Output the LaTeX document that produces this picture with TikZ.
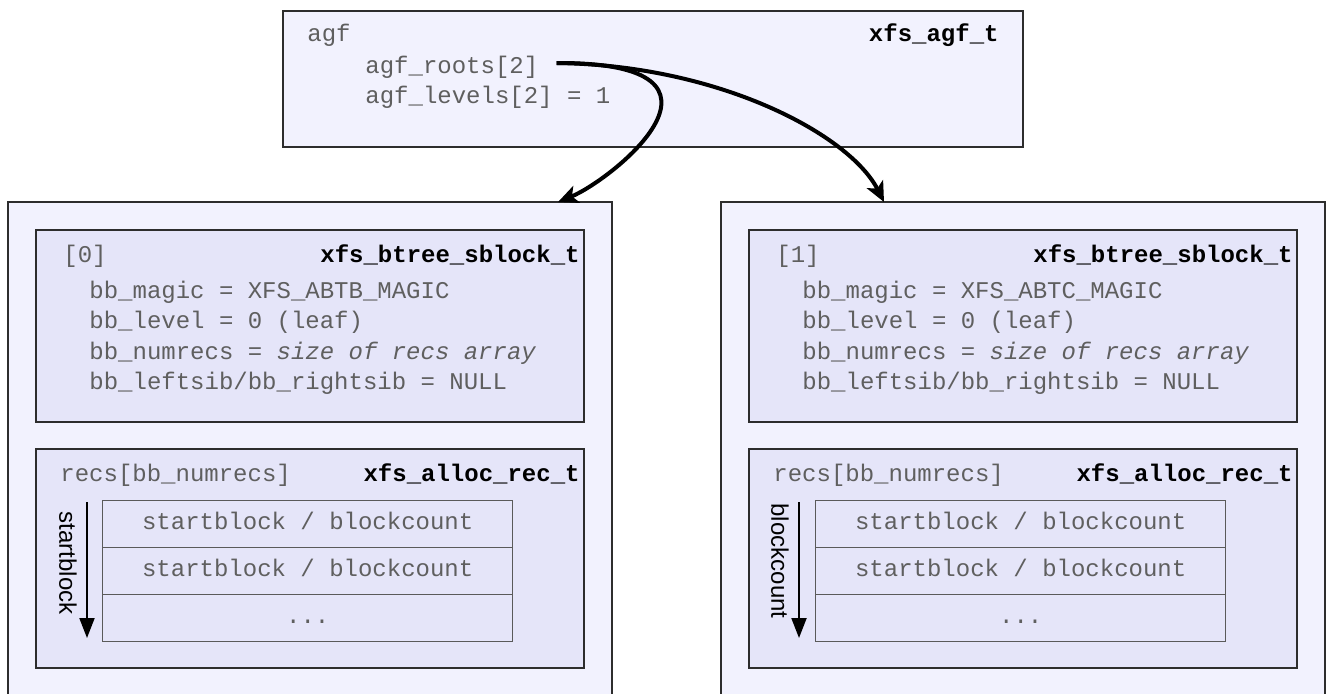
\documentclass[tikz,border=0pt]{standalone}
\usepackage{fontspec}
\setmonofont{Liberation Mono}
\setsansfont{Liberation Sans}
\usetikzlibrary{arrows.meta,calc}
\definecolor{outerfill}{RGB}{242,242,254}
\definecolor{innerfill}{RGB}{229,229,249}
\definecolor{bordercol}{RGB}{45,45,45}
\definecolor{txtgray}{RGB}{95,95,95}
\definecolor{gridcol}{RGB}{90,90,90}
\newcommand{\xmono}{\ttfamily\fontsize{12}{14}\selectfont}
\newcommand{\xmonob}{\ttfamily\bfseries\fontsize{12}{14}\selectfont}
\begin{document}
\begin{tikzpicture}[x=0.5pt,y=-0.5pt,
  box/.style={draw=bordercol, line width=1pt, fill=outerfill, inner sep=0pt, outer sep=0pt, anchor=north west},
  inbox/.style={box, fill=innerfill},
  cell/.style={draw=gridcol, line width=0.7pt, fill=innerfill, anchor=north west,
     minimum width=205pt, minimum height=23.5pt, inner sep=0pt,
     text height=7.5pt, text depth=2pt, font=\xmono, text=txtgray},
  txt/.style={inner sep=0pt, font=\xmono, text=txtgray, anchor=base west},
  lbl/.style={inner sep=0pt, font=\xmonob, text=black, anchor=base east},
  conn/.style={line width=2pt, -{Stealth[length=10pt,width=9pt,inset=2.5pt]}},
  ord/.style={line width=1pt, -{Triangle[length=10pt,width=7.5pt]}},
  side/.style={font=\sffamily\fontsize{12}{14}\selectfont, inner sep=0pt, rotate=-90, text=black}
]
\useasboundingbox (0,0) rectangle (1327,693);
\clip (0,0) rectangle (1327,693);
\fill[white] (0,0) rectangle (1327,693);

% top box
\node[box, minimum width=370pt, minimum height=68pt] (T) at (283,11) {};
\node[txt] (agf) at (307,41) {agf};
\node[lbl] (agft) at (999,41) {xfs\_agf\_t};
\node[txt] (roots) at (365,73) {agf\_roots[2]};
\node[txt] (levels) at (365,103) {agf\_levels[2] = 1};

% left outer
\node[box, minimum width=302pt, minimum height=260pt] (L) at (8,202) {};
\node[inbox, minimum width=274pt, minimum height=96pt] (Ls) at (36,230) {};
\node[txt] (l0) at (63,262) {[0]};
\node[lbl] (lst) at (580,262) {xfs\_btree\_sblock\_t};
\node[txt] (lm) at (89,298) {bb\_magic = XFS\_ABTB\_MAGIC};
\node[txt] (ll) at (89,328) {bb\_level = 0 (leaf)};
\node[txt] (ln) at (89,359) {bb\_numrecs = {\itshape size of recs array}};
\node[txt] (ls) at (89,389) {bb\_leftsib/bb\_rightsib = NULL};
\node[inbox, minimum width=274pt, minimum height=109.5pt] (Lr) at (36,449) {};
\node[txt] (lrecs) at (60,481) {recs[bb\_numrecs]};
\node[lbl] (lart) at (580,481) {xfs\_alloc\_rec\_t};
\node[cell] (L1) at (102,500) {startblock / blockcount};
\node[cell] (L2) at (102,547) {startblock / blockcount};
\node[cell] (L3) at (102,594) {...};
\coordinate (la) at (87,502);
\coordinate (lb) at (87,638);
\draw[ord] (la) -- (lb);
\node[side] (lside) at (68,563) {startblock};

% right outer
\node[box, minimum width=302pt, minimum height=260pt] (R) at (721,202) {};
\node[inbox, minimum width=274pt, minimum height=96pt] (Rs) at (749,230) {};
\node[txt] (r1) at (776,262) {[1]};
\node[lbl] (rst) at (1293,262) {xfs\_btree\_sblock\_t};
\node[txt] (rm) at (802,298) {bb\_magic = XFS\_ABTC\_MAGIC};
\node[txt] (rl) at (802,328) {bb\_level = 0 (leaf)};
\node[txt] (rn) at (802,359) {bb\_numrecs = {\itshape size of recs array}};
\node[txt] (rs) at (802,389) {bb\_leftsib/bb\_rightsib = NULL};
\node[inbox, minimum width=274pt, minimum height=109.5pt] (Rr) at (749,449) {};
\node[txt] (rrecs) at (773,481) {recs[bb\_numrecs]};
\node[lbl] (rart) at (1293,481) {xfs\_alloc\_rec\_t};
\node[cell] (R1) at (815,500) {startblock / blockcount};
\node[cell] (R2) at (815,547) {startblock / blockcount};
\node[cell] (R3) at (815,594) {...};
\coordinate (ra) at (799,502);
\coordinate (rb) at (799,638);
\draw[ord] (ra) -- (rb);
\node[side] (rside) at (780,561) {blockcount};

% connectors
\coordinate (r0) at ($(roots.base east)+(18,-10)$);
\draw[conn] (r0) .. controls (760,62) and (612,180) .. ([xshift=-27pt]L.north east);
\draw[conn] (r0) .. controls (720,65) and (850,135) .. ([xshift=81.5pt]R.north west);
\end{tikzpicture}
\end{document}
